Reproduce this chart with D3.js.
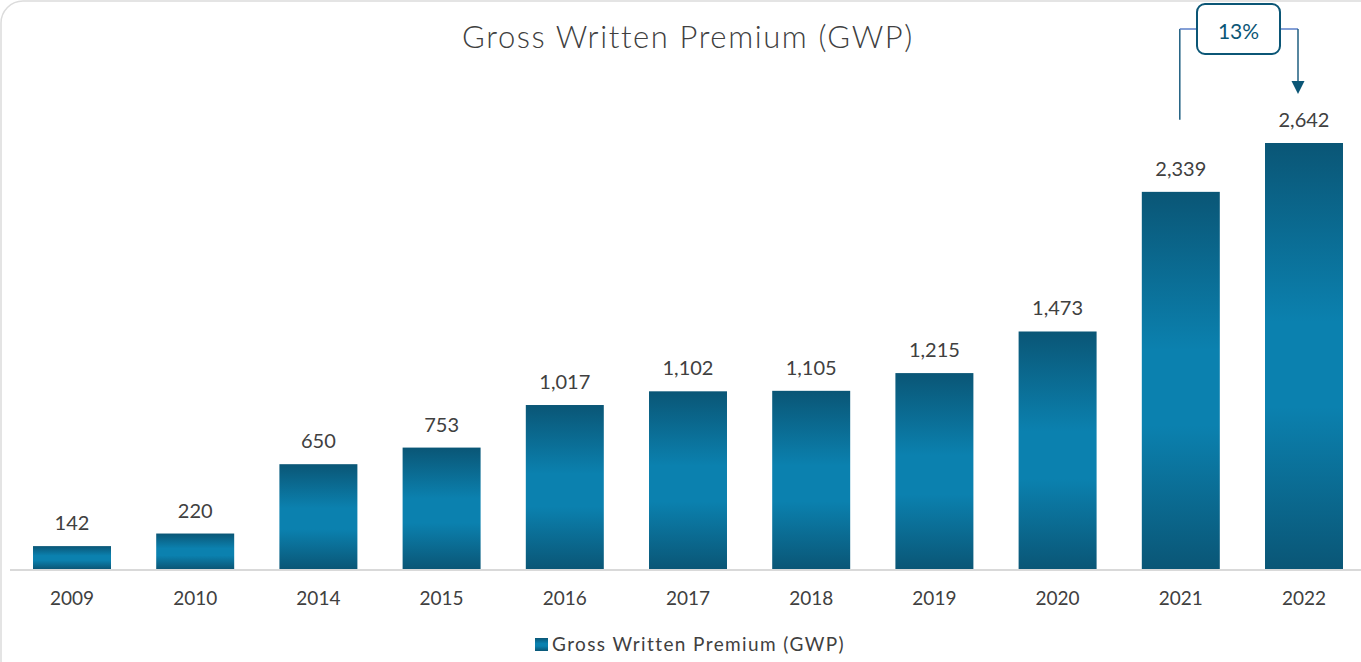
<!DOCTYPE html>
<html lang="en">
  <head>
    <meta charset="UTF-8">
    <title>Gross Written Premium (GWP)</title>
    <style>
      body { margin: 0; background: #fff; }
      text { font-family: "Lato", "Open Sans", sans-serif; fill: #404040; }
    </style>
  </head>
  <body>
    <div id="chart-container"></div>
    <script src="https://d3js.org/d3.v7.min.js"></script>
    <script>
      // data
      const years = ["2009", "2010", "2014", "2015", "2016", "2017", "2018", "2019", "2020", "2021", "2022"];
      const gwp = [142, 220, 650, 753, 1017, 1102, 1105, 1215, 1473, 2339, 2642];
      const growthLabel = "13%";
      const seriesName = "Gross Written Premium (GWP)";

      const width = 1361, height = 662;
      const dataset = years.map((y, i) => ({ year: y, value: gwp[i] }));

      const svg = d3.select("#chart-container")
        .append("svg")
        .attr("width", width)
        .attr("height", height);

      // frame (rounded, top-left visible)
      svg.append("rect")
        .attr("x", 1).attr("y", 1)
        .attr("width", width + 20).attr("height", height + 20)
        .attr("rx", 22)
        .attr("fill", "none")
        .attr("stroke", "#dcdcdc")
        .attr("stroke-width", 1.5);

      // gradient for bars
      const defs = svg.append("defs");
      const grad = defs.append("linearGradient")
        .attr("id", "barGrad")
        .attr("x1", 0).attr("y1", 0).attr("x2", 0).attr("y2", 1);
      grad.append("stop").attr("offset", "0%").attr("stop-color", "#0a5676");
      grad.append("stop").attr("offset", "42%").attr("stop-color", "#0b81af");
      grad.append("stop").attr("offset", "62%").attr("stop-color", "#0b81af");
      grad.append("stop").attr("offset", "100%").attr("stop-color", "#0a5676");

      const baseY = 569;
      const x = d3.scaleBand()
        .domain(years)
        .range([10.4, 1365.6])
        .paddingInner(0.367)
        .paddingOuter(0.1835);
      const y = d3.scaleLinear()
        .domain([0, 3000])
        .range([baseY, baseY - 3000 * 426 / 2642]);

      // title
      svg.append("text")
        .attr("x", 688)
        .attr("y", 48)
        .attr("text-anchor", "middle")
        .style("font-size", "31px")
        .style("font-weight", 300)
        .style("letter-spacing", "1.6px")
        .text(seriesName);

      // bars
      svg.append("g")
        .selectAll("rect")
        .data(dataset).enter()
        .append("rect")
        .attr("x", d => x(d.year))
        .attr("y", d => y(d.value))
        .attr("width", x.bandwidth())
        .attr("height", d => baseY - y(d.value))
        .attr("fill", "url(#barGrad)");

      // axis line
      svg.append("line")
        .attr("x1", 10).attr("x2", width)
        .attr("y1", baseY + 1).attr("y2", baseY + 1)
        .attr("stroke", "#d9d9d9")
        .attr("stroke-width", 2);

      // value labels
      svg.append("g")
        .selectAll("text")
        .data(dataset).enter()
        .append("text")
        .attr("x", d => x(d.year) + x.bandwidth() / 2)
        .attr("y", d => y(d.value) - 16)
        .attr("text-anchor", "middle")
        .style("font-size", "20px")
        .text(d => d3.format(",")(d.value));

      // category labels
      svg.append("g")
        .selectAll("text")
        .data(years).enter()
        .append("text")
        .attr("x", d => x(d) + x.bandwidth() / 2)
        .attr("y", 605)
        .attr("text-anchor", "middle")
        .style("font-size", "19px")
        .text(d => d);

      // legend
      svg.append("rect")
        .attr("x", 535).attr("y", 638)
        .attr("width", 13).attr("height", 13)
        .attr("fill", "url(#barGrad)");
      svg.append("text")
        .attr("x", 552)
        .attr("y", 651)
        .style("font-size", "19px")
        .style("letter-spacing", "1.4px")
        .text(seriesName);

      // growth annotation between 2021 and 2022
      const i21 = years.indexOf("2021"), i22 = years.indexOf("2022");
      const lx = x(years[i21]) + x.bandwidth() / 2 - 1;
      const rx = x(years[i22]) + x.bandwidth() / 2 - 6;
      const lineY = 29;
      const ann = svg.append("g");
      ann.append("line")
        .attr("x1", lx).attr("x2", lx)
        .attr("y1", y(gwp[i21]) - 72).attr("y2", lineY)
        .attr("stroke", "#1f5f80").attr("stroke-width", 1.5);
      ann.append("line")
        .attr("x1", lx).attr("x2", 1197)
        .attr("y1", lineY).attr("y2", lineY)
        .attr("stroke", "#5b7fc8").attr("stroke-width", 1.5);
      ann.append("line")
        .attr("x1", 1280).attr("x2", rx)
        .attr("y1", lineY).attr("y2", lineY)
        .attr("stroke", "#5b7fc8").attr("stroke-width", 1.5);
      const tipY = y(gwp[i22]) - 49;
      ann.append("line")
        .attr("x1", rx).attr("x2", rx)
        .attr("y1", lineY).attr("y2", tipY - 12)
        .attr("stroke", "#1f5f80").attr("stroke-width", 1.5);
      ann.append("path")
        .attr("d", `M${rx - 6.5},${tipY - 13} L${rx + 6.5},${tipY - 13} L${rx},${tipY} Z`)
        .attr("fill", "#0b5676");
      ann.append("rect")
        .attr("x", 1197).attr("y", 4)
        .attr("width", 83).attr("height", 50)
        .attr("rx", 8)
        .attr("fill", "#fff")
        .attr("stroke", "#0b5676")
        .attr("stroke-width", 2);
      ann.append("text")
        .attr("x", 1238.5)
        .attr("y", 39)
        .attr("text-anchor", "middle")
        .style("font-size", "21px")
        .style("fill", "#0b5676")
        .text(growthLabel);
    </script>
  </body>
</html>
